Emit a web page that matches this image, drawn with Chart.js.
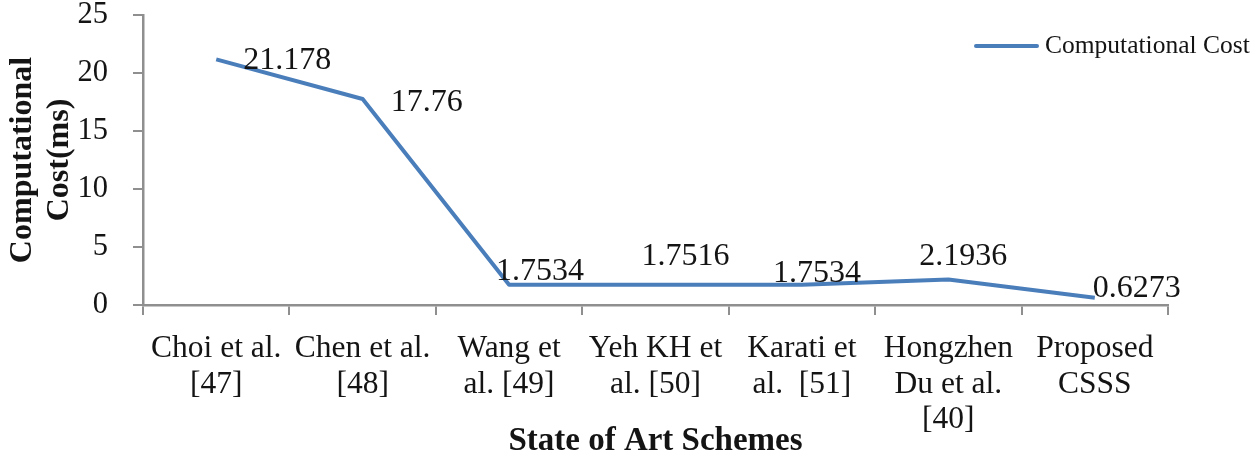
<!DOCTYPE html>
<html>
<head>
<meta charset="utf-8">
<script src="https://cdn.jsdelivr.net/npm/chart.js@4"></script>
<style>
    html, body { margin: 0; padding: 0; background: #fff; }
    #wrap { width: 1250px; height: 461px; }
</style>
</head>
<body>
<div id="wrap"><canvas id="costChart" width="1250" height="461"></canvas></div>
<script>
// ===============================
// Data
// ===============================
const schemes = [
    ['Choi et al.', '[47]'],
    ['Chen et al.', '[48]'],
    ['Wang et', 'al. [49]'],
    ['Yeh KH et', 'al. [50]'],
    ['Karati et', 'al.  [51]'],
    ['Hongzhen', 'Du et al.', '[40]'],
    ['Proposed', 'CSSS']
];
const costValues = [21.178, 17.76, 1.7534, 1.7516, 1.7534, 2.1936, 0.6273];
const costText = ['21.178', '17.76', '1.7534', '1.7516', '1.7534', '2.1936', '0.6273'];
const yTicks = [0, 5, 10, 15, 20, 25];

// label nudges (px, relative to point) - labels were dragged around in the original
const labelNudge = [[71, 1], [64, 4], [31, -13], [30, -28], [15, -11], [15, -23], [42, -9]];

const AXIS = '#8f8f8f';
const BLUE = '#4a7ebb';
const SERIF = "'Liberation Serif', 'Times New Roman', serif";

// ===============================
// Plugins
// ===============================
const pointLabels = {
    id: 'pointLabels',
    afterDatasetsDraw(chart) {
        const c = chart.ctx;
        const meta = chart.getDatasetMeta(0);
        c.save();
        c.font = '32px ' + SERIF;
        c.fillStyle = '#141414';
        c.textAlign = 'center';
        c.textBaseline = 'middle';
        meta.data.forEach((pt, i) => {
            c.fillText(costText[i], pt.x + labelNudge[i][0], pt.y + labelNudge[i][1]);
        });
        c.restore();
    }
};

const sideLegend = {
    id: 'sideLegend',
    afterDraw(chart) {
        const c = chart.ctx;
        const ds = chart.data.datasets[0];
        c.save();
        c.strokeStyle = ds.borderColor;
        c.lineWidth = 4;
        c.lineCap = 'round';
        c.beginPath();
        c.moveTo(976, 46);
        c.lineTo(1037, 46);
        c.stroke();
        c.font = '25.5px ' + SERIF;
        c.fillStyle = '#141414';
        c.textAlign = 'left';
        c.textBaseline = 'middle';
        c.fillText(ds.label, 1045, 46);
        c.restore();
    }
};

// ===============================
// Chart
// ===============================
new Chart(document.getElementById('costChart').getContext('2d'), {
    type: 'line',
    data: {
        labels: schemes,
        datasets: [{
            label: 'Computational Cost',
            data: costValues,
            borderColor: BLUE,
            borderWidth: 4,
            tension: 0,
            pointRadius: 0,
            fill: false,
            borderJoinStyle: 'round'
        }]
    },
    options: {
        responsive: false,
        animation: false,
        layout: { padding: { top: 15, right: 82, left: 0, bottom: 0 } },
        plugins: {
            legend: { display: false },
            tooltip: { enabled: false }
        },
        scales: {
            x: {
                offset: true,
                afterFit: s => { s.height = 156; },
                grid: {
                    offset: true,
                    drawOnChartArea: false,
                    drawTicks: true,
                    tickLength: 10,
                    color: AXIS,
                    lineWidth: 2
                },
                border: { display: true, color: AXIS, width: 2.5 },
                ticks: {
                    color: '#141414',
                    padding: 16,
                    maxRotation: 0,
                    autoSkip: false,
                    font: { family: SERIF, size: 31.5, lineHeight: 1.13 }
                },
                title: {
                    display: true,
                    text: 'State of Art Schemes',
                    color: '#141414',
                    padding: 0,
                    font: { family: SERIF, size: 33, weight: 'bold', lineHeight: 1.2 }
                }
            },
            y: {
                min: 0,
                max: 25,
                afterFit: s => {
                    s.width = 143;
                    // don't let the tick padding push the plot area down
                    s.paddingTop = 0;
                    s.paddingBottom = 0;
                },
                afterBuildTicks: s => { s.ticks = yTicks.map(v => ({ value: v })); },
                grid: {
                    drawOnChartArea: false,
                    drawTicks: true,
                    tickLength: 10,
                    color: AXIS,
                    lineWidth: 2
                },
                border: { display: true, color: AXIS, width: 2.5 },
                ticks: {
                    color: '#141414',
                    padding: 25,
                    font: { family: SERIF, size: 30.5, lineHeight: 1 }
                },
                title: {
                    display: true,
                    text: ['Computational', 'Cost(ms)'],
                    color: '#141414',
                    padding: { top: 4, bottom: 0 },
                    font: { family: SERIF, size: 32, weight: 'bold', lineHeight: 1.16 }
                }
            }
        }
    },
    plugins: [pointLabels, sideLegend]
});
</script>
</body>
</html>
